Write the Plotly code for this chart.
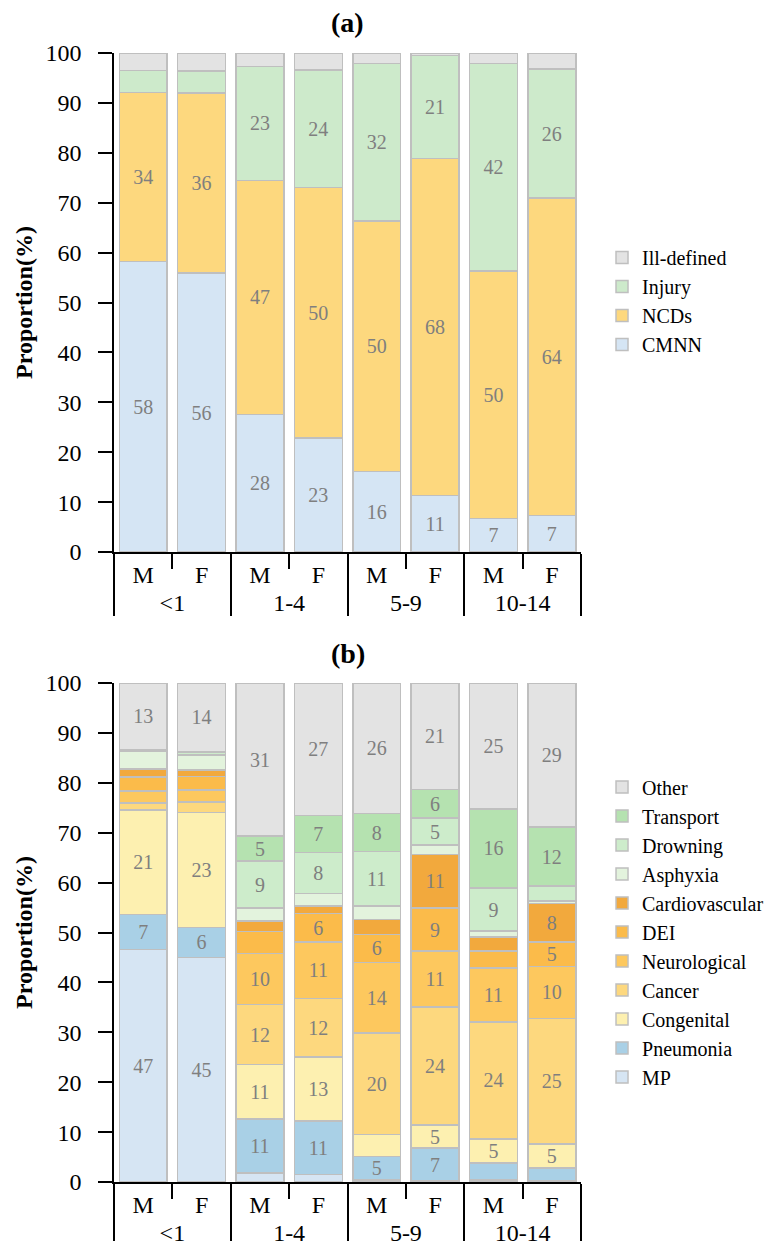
import plotly.graph_objects as go
from plotly.subplots import make_subplots

# x-axis categories: age group (outer) and sex (inner)
age_groups = ["<1", "<1", "1-4", "1-4", "5-9", "5-9", "10-14", "10-14"]
sexes = ["M", "F", "M", "F", "M", "F", "M", "F"]

# (a) broad cause groups, % of deaths (stacked bottom -> top)
a_cmnn = [58.2, 55.9, 27.6, 22.8, 16.1, 11.3, 6.7, 7.3]
a_ncds = [33.9, 36.1, 46.9, 50.2, 50.2, 67.6, 49.6, 63.6]
a_injury = [4.4, 4.4, 22.8, 23.6, 31.6, 20.6, 41.6, 25.9]
a_ill = [3.5, 3.6, 2.7, 3.4, 2.1, 0.5, 2.1, 3.2]

# (b) detailed causes, % of deaths (stacked bottom -> top)
b_mp = [46.6, 45.0, 1.8, 1.5, 0.4, 0.2, 0.4, 0.3]
b_pneumonia = [7.0, 6.0, 10.8, 10.7, 4.7, 6.6, 3.4, 2.5]
b_congenital = [21.0, 23.0, 10.9, 12.9, 4.4, 4.6, 4.8, 4.8]
b_cancer = [1.4, 2.2, 12.1, 11.7, 20.4, 23.7, 23.5, 25.2]
b_neuro = [2.4, 2.4, 10.2, 11.3, 14.1, 11.2, 10.8, 10.4]
b_dei = [2.8, 2.7, 4.4, 5.7, 5.6, 8.6, 3.4, 4.9]
b_cardio = [1.6, 1.3, 2.1, 1.5, 3.0, 10.7, 2.8, 7.7]
b_asphyxia = [3.5, 3.0, 2.6, 2.5, 2.7, 1.9, 1.2, 0.5]
b_drowning = [0.2, 0.5, 9.4, 8.2, 10.9, 5.4, 8.6, 3.0]
b_transport = [0.1, 0.2, 5.0, 7.4, 7.6, 5.8, 15.9, 11.8]
b_other = [13.4, 13.7, 30.7, 26.6, 26.2, 21.3, 25.2, 28.9]

panel_a = [
    ("CMNN", a_cmnn, "#d5e5f4"),
    ("NCDs", a_ncds, "#fdd87e"),
    ("Injury", a_injury, "#cdeacb"),
    ("Ill-defined", a_ill, "#e3e3e3"),
]
panel_b = [
    ("MP", b_mp, "#d6e5f3"),
    ("Pneumonia", b_pneumonia, "#a9d0e6"),
    ("Congenital", b_congenital, "#fdf0b0"),
    ("Cancer", b_cancer, "#fdd87e"),
    ("Neurological", b_neuro, "#fdc85e"),
    ("DEI", b_dei, "#fbbb4a"),
    ("Cardiovascular", b_cardio, "#f2a93d"),
    ("Asphyxia", b_asphyxia, "#e3f3dd"),
    ("Drowning", b_drowning, "#cdeccb"),
    ("Transport", b_transport, "#b5e2b0"),
    ("Other", b_other, "#e3e3e3"),
]

SERIF = "Liberation Serif"
W, H = 770, 1241


def labels(values, minimum=4.5):
    return [f"{v:.0f}" if v >= minimum else "" for v in values]


fig = make_subplots(rows=2, cols=1)

for row, series, legend in ((1, panel_a, "legend"), (2, panel_b, "legend2")):
    for name, vals, color in series:
        fig.add_trace(
            go.Bar(
                x=[age_groups, sexes],
                y=vals,
                name=name,
                text=labels(vals),
                textposition="inside",
                insidetextanchor="middle",
                textangle=0,
                constraintext="none",
                textfont=dict(family=SERIF, size=20, color="#7f7f7f"),
                marker=dict(color=color, line=dict(color="#bfbfbf", width=1.5)),
                legend=legend,
                legendgroup=f"{legend}-{name}",
            ),
            row=row,
            col=1,
        )

# plot areas in pixels (top, bottom)
areas = [(53, 552), (683, 1182)]
for i, (top, bottom) in enumerate(areas, start=1):
    ydom = [1 - bottom / H, 1 - top / H]
    fig.update_yaxes(
        domain=ydom, range=[0, 100], dtick=10, ticks="outside", ticklen=14,
        tickwidth=1.5, tickcolor="black", showline=True, linecolor="black",
        linewidth=1.5, showgrid=False, zeroline=False, automargin=False,
        ticklabelstandoff=12,
        tickfont=dict(family=SERIF, size=24, color="black"),
        title=dict(text="<b>Proportion(%)</b>", standoff=6,
                   font=dict(family=SERIF, size=24, color="black")),
        row=i, col=1,
    )
    fig.update_xaxes(
        domain=[0, 1], type="multicategory", showline=True, linecolor="black",
        linewidth=1.5, ticks="outside", tickson="boundaries", ticklen=15,
        tickwidth=1.5, tickcolor="black", showdividers=True,
        dividercolor="black", dividerwidth=1.5, showgrid=False,
        automargin=False,
        tickfont=dict(family=SERIF, size=24, color="black"),
        row=i, col=1,
    )

for txt, top in (("<b>(a)</b>", 23), ("<b>(b)</b>", 653)):
    fig.add_annotation(
        text=txt, x=0.5, y=1 - top / H, xref="paper", yref="paper",
        xanchor="center", yanchor="middle", showarrow=False,
        font=dict(family=SERIF, size=28, color="black"),
    )

legend_style = dict(
    traceorder="reversed", font=dict(family=SERIF, size=20, color="black"),
    bgcolor="rgba(0,0,0,0)", xanchor="left", yanchor="middle",
    tracegroupgap=5.5, itemclick=False,
)
fig.update_layout(
    width=W, height=H,
    margin=dict(l=114, r=189, t=0, b=0, autoexpand=False),
    paper_bgcolor="white", plot_bgcolor="white",
    barmode="stack", bargap=0.18,
    uniformtext=dict(mode="show", minsize=20),
    legend=dict(x=1.045, y=1 - 301 / H, **legend_style),
    legend2=dict(x=1.045, y=1 - 932 / H, **legend_style),
    showlegend=True,
)

fig.write_html("out.html")
